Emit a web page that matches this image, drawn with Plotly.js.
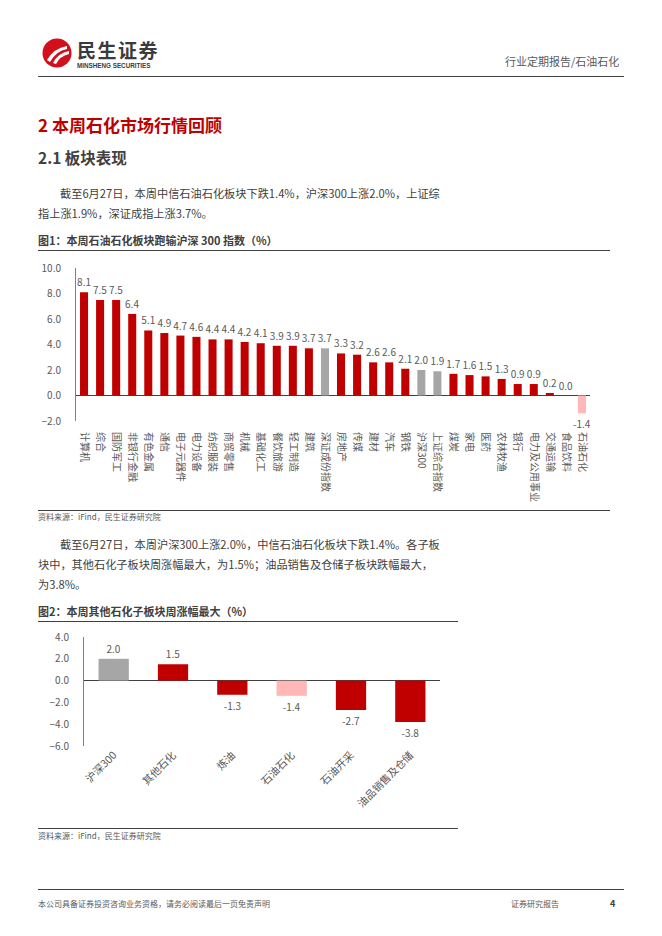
<!DOCTYPE html>
<html><head><meta charset="utf-8">
<script src="https://cdn.plot.ly/plotly-3.0.1.min.js"></script>
<style>
body{margin:0;background:#fff;width:662px;height:936px;position:relative;overflow:hidden;font-family:"Noto Sans CJK SC","Noto Sans",sans-serif;color:#404040}
.t{position:absolute;white-space:nowrap;line-height:1}
.p{font-size:11.2px;color:#404040}
.hl{position:absolute;height:1px;background:#404040}
#c1,#c2{position:absolute;left:0}
</style></head><body>
<script>
// ---- data ----
const fig1Categories = ['计算机','综合','国防军工','非银行金融','有色金属','通信','电子元器件','电力设备','纺织服装','商贸零售','机械','基础化工','餐饮旅游','轻工制造','建筑','深证成份指数','房地产','传媒','建材','汽车','钢铁','沪深300','上证综合指数','煤炭','家电','医药','农林牧渔','银行','电力及公用事业','交通运输','食品饮料','石油石化'];
const fig1Values = [8.1,7.5,7.5,6.4,5.1,4.9,4.7,4.6,4.4,4.4,4.2,4.1,3.9,3.9,3.7,3.7,3.3,3.2,2.6,2.6,2.1,2.0,1.9,1.7,1.6,1.5,1.3,0.9,0.9,0.2,0.0,-1.4];
const fig2Categories = ['沪深300','其他石化','炼油','石油石化','石油开采','油品销售及仓储'];
const fig2Values = [2.0,1.5,-1.3,-1.4,-2.7,-3.8];
const indexNames = ['深证成份指数','沪深300','上证综合指数'];
const focusName = '石油石化';
const yTicks1 = [-2,0,2,4,6,8,10];
const yTicks2 = [-6,-4,-2,0,2,4];
</script>

<!-- header -->
<svg style="position:absolute;left:42px;top:38px" width="30" height="30" viewBox="0 0 30 30">
  <circle cx="15" cy="15" r="14.5" fill="#d40f1c"/>
  <path d="M5 22 Q12 10 25 8 L25 11 Q14 13 8 24 Z" fill="#fff"/>
  <path d="M11 25 Q16 15 27 13 L27 16 Q18 18 14 26 Z" fill="#fff"/>
</svg>
<div class="t" style="left:77px;top:40px;font-size:19px;font-weight:700;color:#3b3b3b;letter-spacing:1.5px">民生证券</div>
<div class="t" style="left:77px;top:63px;font-size:6.3px;font-weight:700;color:#3b3b3b;font-family:'Liberation Sans',Arial,sans-serif">MINSHENG SECURITIES</div>
<div class="t" style="left:505px;top:56px;font-size:11px;color:#595959">行业定期报告/石油石化</div>
<div class="hl" style="left:38px;top:76px;width:586px"></div>

<div class="t" style="left:38px;top:116px;font-size:17px;font-weight:700;color:#c00000">2 本周石化市场行情回顾</div>
<div class="t" style="left:38px;top:150px;font-size:15.5px;font-weight:700;color:#404040">2.1 板块表现</div>
<div class="t p" style="left:60px;top:188px">截至6月27日，本周中信石油石化板块下跌1.4%，沪深300上涨2.0%，上证综</div>
<div class="t p" style="left:38px;top:208px">指上涨1.9%，深证成指上涨3.7%。</div>

<div class="t" style="left:38px;top:235px;font-size:11px;font-weight:700;color:#404040">图1：本周石油石化板块跑输沪深 300 指数（%）</div>
<div class="hl" style="left:38px;top:250px;width:572px"></div>
<div id="c1" style="top:250px;width:662px;height:260px"></div>
<div class="hl" style="left:38px;top:510px;width:572px"></div>
<div class="t" style="left:38px;top:513px;font-size:8px;color:#595959">资料来源：iFind，民生证券研究院</div>

<div class="t p" style="left:60px;top:539px">截至6月27日，本周沪深300上涨2.0%，中信石油石化板块下跌1.4%。各子板</div>
<div class="t p" style="left:38px;top:559px">块中，其他石化子板块周涨幅最大，为1.5%；油品销售及仓储子板块跌幅最大，</div>
<div class="t p" style="left:38px;top:579px">为3.8%。</div>

<div class="t" style="left:38px;top:606px;font-size:11px;font-weight:700;color:#404040">图2：本周其他石化子板块周涨幅最大（%）</div>
<div class="hl" style="left:38px;top:621px;width:420px"></div>
<div id="c2" style="top:625px;width:662px;height:200px"></div>
<div class="hl" style="left:38px;top:828px;width:420px"></div>
<div class="t" style="left:38px;top:832px;font-size:8px;color:#595959">资料来源：iFind，民生证券研究院</div>

<div class="hl" style="left:38px;top:889px;width:586px"></div>
<div class="t" style="left:38px;top:900px;font-size:8px;color:#595959">本公司具备证券投资咨询业务资格，请务必阅读最后一页免责声明</div>
<div class="t" style="left:511px;top:900px;font-size:8px;color:#595959">证券研究报告</div>
<div class="t" style="left:610px;top:899px;font-size:9px;font-weight:700;color:#404040">4</div>

<script>
const RED='#c00000', GRAY='#a6a6a6', PINK='#ffb7b7';
function colorFor(c){ return c===focusName ? PINK : (indexNames.includes(c) ? GRAY : RED); }
const F = '"Noto Sans CJK SC","Noto Sans",sans-serif';
const tickFont = {family:F,size:10,color:'#595959'};

Plotly.newPlot('c1',[{
  type:'bar', x:fig1Categories, y:fig1Values,
  marker:{color:fig1Categories.map(colorFor)},
  texttemplate:'%{y:.1f}', textposition:'outside', cliponaxis:false, constraintext:'none',
  textfont:{family:F,size:10,color:'#595959'}, hoverinfo:'skip'
}],{
  width:662,height:260,margin:{l:76,r:72,t:18,b:89},
  paper_bgcolor:'rgba(0,0,0,0)',plot_bgcolor:'rgba(0,0,0,0)',
  bargap:0.5,showlegend:false,
  xaxis:{type:'category',tickangle:90,tickfont:tickFont,showgrid:false,showline:false,
    ticks:'outside',ticklen:8,tickcolor:'rgba(0,0,0,0)',automargin:false},
  yaxis:{range:[-2,10],tickvals:yTicks1,tickformat:'.1f',tickfont:tickFont,showgrid:false,
    showline:true,linecolor:'#808080',linewidth:1,zeroline:true,zerolinecolor:'#404040',zerolinewidth:1,
    ticks:'outside',ticklen:12,tickcolor:'rgba(0,0,0,0)',automargin:false}
},{staticPlot:true});

Plotly.newPlot('c2',[{
  type:'bar', x:fig2Categories, y:fig2Values,
  marker:{color:fig2Categories.map(colorFor)},
  texttemplate:'%{y:.1f}', textposition:'outside', cliponaxis:false, constraintext:'none',
  textfont:{family:F,size:10,color:'#595959'}, hoverinfo:'skip'
}],{
  width:662,height:200,margin:{l:84,r:222,t:12,b:79},
  paper_bgcolor:'rgba(0,0,0,0)',plot_bgcolor:'rgba(0,0,0,0)',
  bargap:0.49,showlegend:false,
  xaxis:{type:'category',tickangle:-45,tickfont:{family:F,size:10.5,color:'#595959'},showgrid:false,showline:false,ticks:'',automargin:false},
  yaxis:{range:[-6,4],tickvals:yTicks2,tickformat:'.1f',tickfont:tickFont,showgrid:false,
    showline:true,linecolor:'#808080',linewidth:1,zeroline:true,zerolinecolor:'#404040',zerolinewidth:1,
    ticks:'outside',ticklen:12,tickcolor:'rgba(0,0,0,0)',automargin:false}
},{staticPlot:true});
</script>
</body></html>
